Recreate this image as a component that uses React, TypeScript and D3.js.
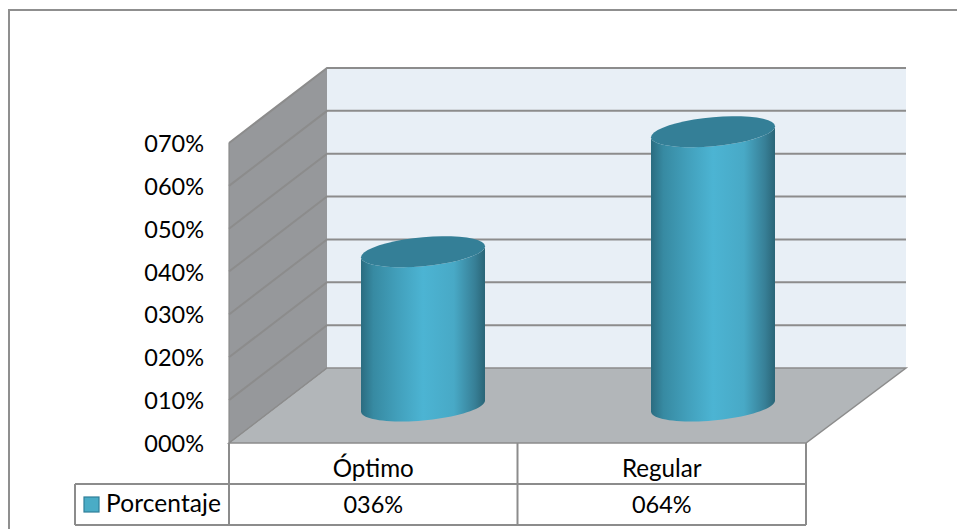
import React from "react";
import * as d3 from "d3";

const categories = ["Óptimo", "Regular"];
const values = [36, 64];
const valueLabels = ["036%", "064%"];
const ticks = [0, 10, 20, 30, 40, 50, 60, 70];
const seriesName = "Porcentaje";

const WIDTH = 957;
const HEIGHT = 529;
const FONT = "Lato, 'Open Sans', sans-serif";
const RULE = "#8c8c8c";

// Front floor edge and the depth offset of the 3D box.
const frontLeft = 229;
const frontRight = 806;
const depthX = 98;
const depthY = -75;
const y = d3.scaleLinear().domain([0, 70]).range([443, 143]);
const band = d3.scaleBand().domain(categories).range([frontLeft, frontRight]);
// Cylinders stand mid-depth on the floor, so their centres sit on a shifted band.
const cylinderBand = d3.scaleBand().domain(categories).range([278, 858]);

const cylHalf = 62;
const cylTilt = 5.5;
const cylMinor = 14.5;
const baseOffsetY = -37;

// Ellipse arc of a cylinder cap, with vertical tangents at the two extreme points.
function capPoints(cx: number, cy: number, from: number, to: number): [number, number][] {
  return d3.range(0, 41).map((i) => {
    const t = from + ((to - from) * i) / 40;
    return [cx + cylHalf * Math.cos(t), cy + cylMinor * Math.sin(t) - cylTilt * Math.cos(t)];
  });
}
const line = d3.line();

function Cylinder({ category, value }: { category: string; value: number }) {
  const cx = (cylinderBand(category) as number) + cylinderBand.bandwidth() / 2;
  const baseY = y(0) + baseOffsetY;
  const topY = y(value) + baseOffsetY;
  const bottomArc = capPoints(cx, baseY, 0, Math.PI);
  const topArc = capPoints(cx, topY, Math.PI, 0);
  const body = [...bottomArc, ...topArc];
  const cap = capPoints(cx, topY, 0, Math.PI * 2);
  return (
    <g>
      <path d={(line(body) as string) + "Z"} fill="url(#cylinderSide)" />
      <path d={(line(cap) as string) + "Z"} fill="#347f97" />
    </g>
  );
}

export default function App() {
  const backY = (v: number) => y(v) + depthY;
  const backLeft = frontLeft + depthX;
  const backRight = frontRight + depthX + 2;
  const tableMid = 484;
  const tableBottom = 525;
  const tableLeft = 75;
  const split = band("Regular") as number;

  return (
    <svg
      width={WIDTH}
      height={HEIGHT}
      viewBox={`0 0 ${WIDTH} ${HEIGHT}`}
      style={{ position: "fixed", left: 0, top: 0, background: "#fff" }}
    >
      <defs>
        <linearGradient id="cylinderSide" x1="0" x2="1" y1="0" y2="0">
          <stop offset="0" stopColor="#2b6c80" />
          <stop offset="0.1" stopColor="#378aa2" />
          <stop offset="0.3" stopColor="#42a0bc" />
          <stop offset="0.5" stopColor="#4cb4d3" />
          <stop offset="0.75" stopColor="#48a9c6" />
          <stop offset="0.92" stopColor="#377f96" />
          <stop offset="1" stopColor="#2a6577" />
        </linearGradient>
      </defs>

      {/* Outer chart frame: open on the right */}
      <path d={`M9,${HEIGHT}V10H${WIDTH}`} fill="none" stroke="#8f8f8f" strokeWidth={2} />

      {/* Back wall, side wall and floor */}
      <rect x={backLeft} y={backY(70)} width={backRight - backLeft} height={y(0) - y(70)} fill="#e8eff6" />
      <polygon
        points={`${frontLeft},${y(0)} ${frontLeft},${y(70)} ${backLeft},${backY(70)} ${backLeft},${backY(0)}`}
        fill="#96989b"
      />
      <polygon
        points={`${frontLeft},${y(0)} ${backLeft},${backY(0)} ${backRight},${backY(0)} ${frontRight},${y(0)}`}
        fill="#b2b6b9"
        stroke={RULE}
        strokeWidth={1.5}
      />

      {/* Gridlines wrapping the side wall and back wall */}
      {ticks.map((t) => (
        <path
          key={t}
          d={
            t === 0
              ? `M${frontLeft},${y(t)}L${backLeft},${backY(t)}`
              : `M${frontLeft},${y(t)}L${backLeft},${backY(t)}H${backRight}`
          }
          fill="none"
          stroke={RULE}
          strokeWidth={t === 0 ? 1 : 2}
        />
      ))}
      <line x1={frontLeft} x2={frontLeft} y1={y(70)} y2={y(0)} stroke={RULE} strokeWidth={1.2} />

      {categories.map((c, i) => (
        <Cylinder key={c} category={c} value={values[i]} />
      ))}

      {/* Value axis labels */}
      {ticks.map((t) => (
        <text key={t} x={204} y={y(t) + 9} textAnchor="end" fontFamily={FONT} fontSize={23.5} fill="#000">
          {d3.format("03d")(t) + "%"}
        </text>
      ))}

      {/* Data table beneath the plot */}
      <g fill="none" stroke={RULE} strokeWidth={2}>
        <path d={`M${frontLeft},${y(0)}V${tableBottom}`} />
        <path d={`M${split},${y(0)}V${tableBottom}`} />
        <path d={`M${frontRight},${y(0)}V${tableBottom}`} />
        <path d={`M${tableLeft},${tableMid}H${frontRight}`} />
        <path d={`M${tableLeft},${tableBottom}H${frontRight}`} />
        <path d={`M${tableLeft},${tableMid}V${tableBottom}`} />
      </g>
      {categories.map((c, i) => {
        const mid = (band(c) as number) + band.bandwidth() / 2;
        return (
          <g key={c} fontFamily={FONT} fill="#000" textAnchor="middle">
            <text x={mid} y={477} fontSize={24.2}>{c}</text>
            <text x={mid} y={513} fontSize={23.5}>{valueLabels[i]}</text>
          </g>
        );
      })}

      {/* Legend key and series name */}
      <rect x={84} y={497} width={15} height={15} fill="#4aacc6" stroke="#2f7f99" strokeWidth={1.2} />
      <text x={106} y={512} fontFamily={FONT} fontSize={24.5} textLength={115} lengthAdjust="spacing" fill="#000">
        {seriesName}
      </text>
    </svg>
  );
}
